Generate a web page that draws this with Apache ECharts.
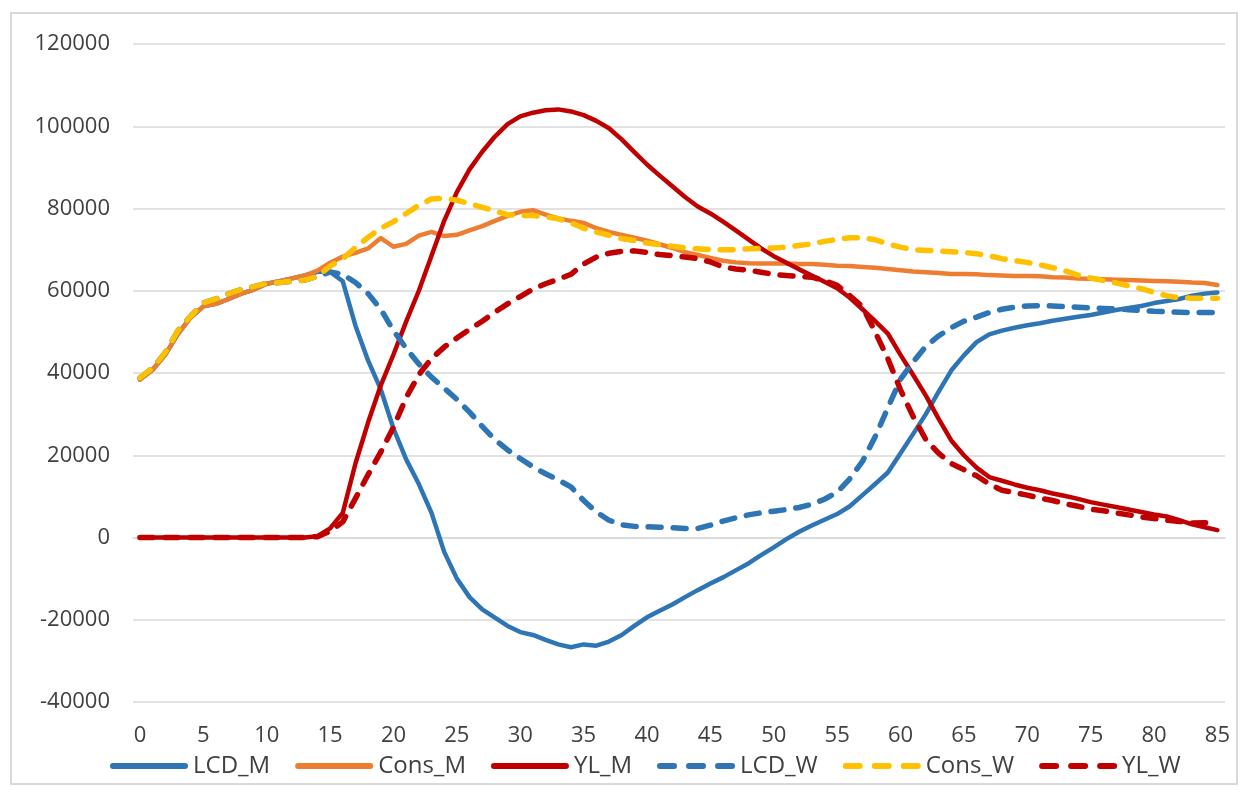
<!DOCTYPE html>
<html>
<head>
<meta charset="utf-8">
<title>LCD / Cons / YL</title>
<script src="https://cdn.jsdelivr.net/npm/echarts@6.0.0/dist/echarts.min.js"></script>
<style>
    html, body { margin: 0; padding: 0; background: #fff; }
    #chart { width: 1248px; height: 796px; }
</style>
</head>
<body>
<div id="chart"></div>
<script>
// ages 0..85 on the x axis, labels every 5
var ages = [];
for (var a = 0; a <= 85; a++) ages.push(a);
var xTicks = [0, 5, 10, 15, 20, 25, 30, 35, 40, 45, 50, 55, 60, 65, 70, 75, 80, 85];
var yTicks = [-40000, -20000, 0, 20000, 40000, 60000, 80000, 100000, 120000];

var seriesNames = ['LCD_M', 'Cons_M', 'YL_M', 'LCD_W', 'Cons_W', 'YL_W'];

var lcdM = [38400, 40800, 44500, 49500, 53500, 56200, 56800, 58000, 59300, 60300,
    61700, 62300, 63000, 63700, 64600, 64600, 62300, 51500, 43000, 36000,
    26500, 19000, 13000, 6000, -3500, -10000, -14500, -17500, -19500, -21500,
    -23000, -23700, -24900, -26000, -26700, -26000, -26300, -25300, -23700, -21500,
    -19400, -17800, -16300, -14500, -12800, -11200, -9700, -8000, -6300, -4300,
    -2400, -400, 1400, 2900, 4300, 5700, 7600, 10300, 13000, 15800,
    20500, 25200, 30000, 35400, 40600, 44300, 47500, 49400, 50300, 51000,
    51600, 52100, 52700, 53200, 53700, 54100, 54700, 55300, 55800, 56300,
    57000, 57500, 58000, 58800, 59300, 59600];

var consM = [38400, 40800, 44500, 49500, 53500, 56200, 56800, 58000, 59300, 60300,
    61700, 62300, 63000, 63700, 64900, 66800, 68300, 69200, 70300, 72800,
    70700, 71400, 73400, 74300, 73300, 73600, 74700, 75700, 77000, 78200,
    79200, 79600, 78500, 77600, 77000, 76500, 75200, 74300, 73600, 72900,
    72200, 71300, 70400, 69400, 68700, 68000, 67300, 66900, 66700, 66600,
    66600, 66600, 66500, 66500, 66300, 66100, 66000, 65800, 65600, 65300,
    65000, 64700, 64500, 64300, 64100, 64100, 64000, 63800, 63700, 63600,
    63600, 63500, 63300, 63200, 63000, 62900, 62800, 62700, 62600, 62500,
    62400, 62300, 62200, 62000, 61900, 61400];

var ylM = [0, 0, 0, 0, 0, 0, 0, 0, 0, 0,
    0, 0, 0, 0, 300, 2200, 6000, 18000, 28000, 37000,
    44500, 52500, 60000, 68500, 77000, 84000, 89500, 93800, 97500, 100500,
    102400, 103300, 103900, 104100, 103600, 102700, 101300, 99500, 96800, 93700,
    90700, 88000, 85400, 82800, 80500, 78800, 76800, 74700, 72500, 70300,
    68400, 66800, 65200, 63700, 62200, 60600, 58300, 55500, 52600, 49600,
    44400, 39500, 34500, 28900, 23600, 20000, 17000, 14700, 13800, 12900,
    12100, 11500, 10700, 10100, 9400, 8600, 8000, 7400, 6800, 6200,
    5600, 5100, 4200, 3200, 2500, 1800];

var lcdW = [38800, 41200, 45000, 50300, 53800, 57000, 58000, 59300, 60300, 61000,
    61800, 62000, 62300, 62600, 63500, 64600, 64000, 62000, 59300, 55500,
    50300, 46000, 42200, 39000, 36300, 33600, 30500, 27000, 23800, 21300,
    19200, 17200, 15500, 14000, 12300, 9000, 6200, 4200, 3100, 2700,
    2600, 2500, 2400, 2200, 2200, 3000, 4000, 4800, 5500, 6000,
    6400, 6800, 7300, 8100, 9300, 11000, 14300, 18500, 24500, 31500,
    38500, 42700, 46500, 49000, 51000, 52600, 53600, 54700, 55500, 56000,
    56300, 56400, 56300, 56100, 56000, 55800, 55700, 55600, 55400, 55200,
    55000, 54900, 54800, 54700, 54700, 54700];

var consW = [38800, 41200, 45000, 50300, 53800, 57000, 58000, 59300, 60300, 61000,
    61800, 62000, 62300, 62600, 63500, 66000, 67800, 70500, 73000, 75200,
    76800, 78800, 80800, 82300, 82500, 82000, 81200, 80300, 79400, 78500,
    78300, 78300, 78000, 77500, 76500, 75200, 74300, 73500, 72700, 72200,
    71600, 71200, 70800, 70400, 70200, 70000, 70000, 70000, 70200, 70300,
    70400, 70600, 71000, 71400, 72000, 72500, 72900, 72900, 72400, 71400,
    70600, 70000, 69800, 69700, 69500, 69300, 69000, 68500, 67800, 67300,
    66900, 66300, 65600, 64800, 63800, 63100, 62500, 61900, 61200, 60500,
    59600, 58800, 58300, 58200, 58200, 58200];

var ylW = [0, 0, 0, 0, 0, 0, 0, 0, 0, 0,
    0, 0, 0, 0, 200, 1500, 3800, 9500, 15300, 20800,
    26800, 34000, 39600, 43500, 46300, 48500, 50600, 52600, 54800, 56800,
    58600, 60400, 61700, 62800, 64000, 66500, 68200, 69100, 69600, 69700,
    69300, 68800, 68500, 68200, 67800, 67000, 65800, 65300, 65000, 64500,
    64000, 63700, 63500, 63300, 62500, 61300, 58800, 56100, 50000, 43500,
    35900, 29400, 23800, 20500, 18000, 16500, 15000, 13000, 11500, 10900,
    10300, 9600, 9000, 8200, 7600, 6900, 6500, 6000, 5500, 5000,
    4600, 4200, 3900, 3500, 3600, 3400];

var seriesData = [lcdM, consM, ylM, lcdW, consW, ylW];
var seriesColors = ['#2e75b6', '#ed7d31', '#c00000', '#2e75b6', '#ffc000', '#c00000'];
var seriesDashed = [false, false, false, true, true, true];

var textColor = '#404040';
var gridColor = '#d9d9d9';
var fontFamily = '"Open Sans", "Liberation Sans", sans-serif';

function pairs(values) {
    return values.map(function (v, i) { return [ages[i], v]; });
}

var series = seriesNames.map(function (name, k) {
    var dashed = seriesDashed[k];
    return {
        name: name,
        type: 'line',
        data: pairs(seriesData[k]),
        symbol: 'none',
        showSymbol: false,
        itemStyle: { color: seriesColors[k] },
        lineStyle: {
            color: seriesColors[k],
            width: dashed ? 5.5 : 4.5,
            type: dashed ? [13, 12] : 'solid',
            cap: 'round',
            join: 'round'
        },
        emphasis: { disabled: true }
    };
});

// legend entries: dashed ones get three short round dashes like the original
var legendData = seriesNames.map(function (name, k) {
    return {
        name: name,
        lineStyle: {
            width: 6,
            cap: 'round',
            type: seriesDashed[k] ? [14, 15] : 'solid'
        }
    };
});

var chart = echarts.init(document.getElementById('chart'));
var option = {
    animation: false,
    backgroundColor: '#fff',
    textStyle: { fontFamily: fontFamily },
    graphic: [{
        type: 'rect',
        silent: true,
        shape: { x: 11, y: 13, width: 1226, height: 771 },
        style: { fill: 'none', stroke: gridColor, lineWidth: 2 }
    }],
    grid: {
        left: 133,
        right: 23,
        top: 44,
        bottom: 94,
        containLabel: false
    },
    legend: {
        data: legendData,
        left: 105,
        top: 749,
        itemWidth: 72,
        itemHeight: 20,
        itemGap: 25,
        // hide the circle ECharts puts in the middle of line icons
        itemStyle: { opacity: 0 },
        textStyle: { color: textColor, fontSize: 24, fontFamily: fontFamily, padding: [0, 0, 0, 3] }
    },
    xAxis: {
        type: 'value',
        min: -0.55,
        max: 85.6,
        splitLine: { show: false },
        axisTick: { show: false },
        axisLine: { onZero: true, lineStyle: { color: gridColor, width: 1.5 } },
        axisLabel: {
            customValues: xTicks,
            margin: 23,
            color: textColor,
            fontSize: 22,
            fontFamily: fontFamily
        }
    },
    yAxis: {
        type: 'value',
        min: yTicks[0],
        max: yTicks[yTicks.length - 1],
        interval: 20000,
        axisLine: { show: false },
        axisTick: { show: false },
        splitLine: { lineStyle: { color: gridColor, width: 1.5 } },
        axisLabel: {
            margin: 23,
            color: textColor,
            fontSize: 22,
            fontFamily: fontFamily,
            formatter: function (v) { return String(v); }
        }
    },
    series: series
};
chart.setOption(option);
</script>
</body>
</html>
